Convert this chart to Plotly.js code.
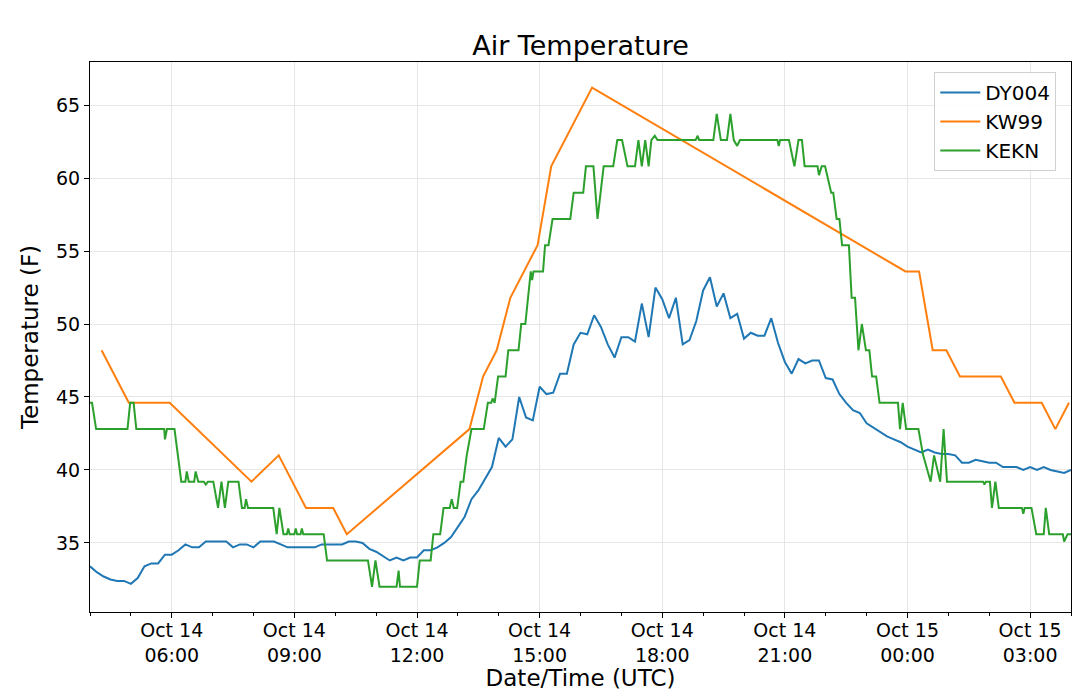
<!DOCTYPE html>
<html>
<head>
<meta charset="utf-8">
<script src="https://cdn.plot.ly/plotly-3.0.1.min.js"></script>
<style>
  html, body { margin: 0; padding: 0; background: #fff; }
  #chart { width: 1080px; height: 697px; }
</style>
</head>
<body>
<div id="chart"></div>
<script>
// DY004: 10-minute readings starting Oct 14 04:00 UTC
const dyStart = Date.UTC(2019, 9, 14, 4, 0);
const dyStepMin = 10;
const dyTemps = [
  33.4, 33.0, 32.7, 32.5, 32.4, 32.4, 32.2, 32.6, 33.4, 33.6, 33.6, 34.2,
  34.2, 34.5, 34.9, 34.7, 34.7, 35.1, 35.1, 35.1, 35.1, 34.7, 34.9, 34.9,
  34.7, 35.1, 35.1, 35.1, 34.9, 34.7, 34.7, 34.7, 34.7, 34.7, 34.9, 34.9,
  34.9, 34.9, 35.1, 35.1, 35.0, 34.6, 34.4, 34.1, 33.8, 34.0, 33.8, 34.0,
  34.0, 34.5, 34.5, 34.7, 35.0, 35.4, 36.1, 36.8, 38.0, 38.6, 39.4, 40.2,
  42.2, 41.6, 42.1, 45.0, 43.6, 43.4, 45.7, 45.2, 45.3, 46.6, 46.6, 48.6,
  49.4, 49.3, 50.6, 49.8, 48.6, 47.7, 49.1, 49.1, 48.8, 51.4, 49.1, 52.5,
  51.7, 50.4, 51.8, 48.6, 48.9, 50.2, 52.3, 53.2, 51.2, 52.1, 50.4, 50.7,
  49.0, 49.4, 49.2, 49.2, 50.4, 48.7, 47.4, 46.6, 47.6, 47.3, 47.5, 47.5,
  46.3, 46.2, 45.2, 44.6, 44.1, 43.9, 43.2, 42.9, 42.6, 42.3, 42.1, 41.9,
  41.6, 41.4, 41.2, 41.4, 41.2, 41.1, 41.1, 41.0, 40.5, 40.5, 40.7, 40.6,
  40.5, 40.5, 40.2, 40.2, 40.2, 40.0, 40.2, 40.0, 40.2, 40.0, 39.9, 39.8,
  40.0
];

// KW99 reports ('day HH:MM', UTC)
const kwTimes = [
  '14 04:17', '14 04:57', '14 05:57', '14 07:57', '14 08:37', '14 09:17',
  '14 09:57', '14 10:17', '14 13:17', '14 13:37', '14 13:57', '14 14:17',
  '14 14:57', '14 15:17', '14 16:17', '14 23:57', '15 00:17', '15 00:37',
  '15 00:57', '15 01:17', '15 02:17', '15 02:37', '15 03:17', '15 03:37',
  '15 03:57'
];
const kwTemps = [
  48.2, 44.6, 44.6, 39.2, 41.0, 37.4,
  37.4, 35.6, 42.8, 46.4, 48.2, 51.8,
  55.4, 60.8, 66.2, 53.6, 53.6, 48.2,
  48.2, 46.4, 46.4, 44.6, 44.6, 42.8,
  44.6
];

// KEKN readings ('day HH:MM', UTC)
const ekTimes = [
  '14 04:00', '14 04:03', '14 04:09', '14 04:55', '14 04:59', '14 05:04', '14 05:08',
  '14 05:49', '14 05:50', '14 05:53', '14 06:04', '14 06:14', '14 06:20', '14 06:22',
  '14 06:25', '14 06:33', '14 06:35', '14 06:39', '14 06:47', '14 06:50', '14 06:53',
  '14 07:01', '14 07:08', '14 07:13', '14 07:18', '14 07:23', '14 07:38', '14 07:43',
  '14 07:47', '14 07:49', '14 07:52', '14 08:29', '14 08:34', '14 08:38', '14 08:44',
  '14 08:49', '14 08:51', '14 08:53', '14 09:00', '14 09:02', '14 09:04', '14 09:09',
  '14 09:11', '14 09:13', '14 09:43', '14 09:48', '14 10:48', '14 10:54', '14 10:59',
  '14 11:05', '14 11:30', '14 11:33', '14 11:35', '14 12:00', '14 12:04', '14 12:20',
  '14 12:24', '14 12:34', '14 12:39', '14 12:48', '14 12:51', '14 12:54', '14 12:59',
  '14 13:04', '14 13:08', '14 13:13', '14 13:20', '14 13:38', '14 13:44', '14 13:49',
  '14 13:51', '14 13:54', '14 13:59', '14 14:10', '14 14:14', '14 14:29', '14 14:33',
  '14 14:39', '14 14:47', '14 14:49', '14 14:51', '14 15:05', '14 15:08', '14 15:13',
  '14 15:19', '14 15:45', '14 15:50', '14 16:04', '14 16:08', '14 16:19', '14 16:25',
  '14 16:34', '14 16:48', '14 16:54', '14 17:01', '14 17:09', '14 17:20', '14 17:25',
  '14 17:30', '14 17:35', '14 17:40', '14 17:44', '14 17:49', '14 17:53', '14 18:49',
  '14 18:52', '14 18:54', '14 19:15', '14 19:20', '14 19:26', '14 19:35', '14 19:40',
  '14 19:45', '14 19:50', '14 19:54', '14 20:49', '14 20:51', '14 20:53', '14 21:06',
  '14 21:14', '14 21:20', '14 21:25', '14 21:29', '14 21:48', '14 21:50', '14 21:54',
  '14 21:59', '14 22:08', '14 22:11', '14 22:16', '14 22:20', '14 22:24', '14 22:34',
  '14 22:38', '14 22:43', '14 22:48', '14 22:53', '14 22:59', '14 23:04', '14 23:08',
  '14 23:14', '14 23:19', '14 23:46', '14 23:49', '14 23:53', '14 23:58', '15 00:16',
  '15 00:23', '15 00:34', '15 00:39', '15 00:48', '15 00:53', '15 00:58', '15 01:51',
  '15 01:53', '15 01:55', '15 02:01', '15 02:04', '15 02:09', '15 02:14', '15 02:48',
  '15 02:50', '15 02:52', '15 03:02', '15 03:09', '15 03:20', '15 03:23', '15 03:28',
  '15 03:48', '15 03:50', '15 03:55', '15 04:00'
];
const ekTemps = [
  44.6, 44.6, 42.8, 42.8, 44.6, 44.6, 42.8,
  42.8, 42.1, 42.8, 42.8, 39.2, 39.2, 39.9,
  39.2, 39.2, 39.9, 39.2, 39.2, 39.0, 39.2,
  39.2, 37.4, 39.2, 37.4, 39.2, 39.2, 37.4,
  37.4, 38.0, 37.4, 37.4, 35.6, 37.4, 35.6,
  35.6, 36.0, 35.6, 35.6, 36.0, 35.6, 35.6,
  36.0, 35.6, 35.6, 33.8, 33.8, 32.0, 33.8,
  32.0, 32.0, 33.1, 32.0, 32.0, 33.8, 33.8,
  35.6, 35.6, 37.4, 37.4, 38.0, 37.4, 37.4,
  39.2, 39.2, 41.0, 42.8, 42.8, 44.6, 44.6,
  44.9, 44.6, 46.4, 46.4, 48.2, 48.2, 50.0,
  50.0, 53.6, 53.0, 53.6, 53.6, 55.4, 55.4,
  57.2, 57.2, 59.0, 59.0, 60.8, 60.8, 57.2,
  60.8, 60.8, 62.6, 62.6, 60.8, 60.8, 62.6,
  60.8, 62.6, 60.8, 62.6, 62.9, 62.6, 62.6,
  62.9, 62.6, 62.6, 64.4, 62.6, 62.6, 64.4,
  62.6, 62.2, 62.6, 62.6, 62.2, 62.6, 62.6,
  60.8, 62.6, 62.6, 60.8, 60.8, 60.2, 60.8,
  60.8, 59.0, 59.0, 57.2, 57.2, 55.4, 55.4,
  51.8, 51.8, 48.2, 50.0, 48.2, 48.2, 46.4,
  46.4, 44.6, 44.6, 42.8, 44.6, 42.8, 42.8,
  41.0, 39.2, 41.0, 39.2, 42.8, 39.2, 39.2,
  39.0, 39.2, 39.2, 37.4, 39.2, 37.4, 37.4,
  37.0, 37.4, 37.4, 35.6, 35.6, 37.4, 35.6,
  35.6, 35.1, 35.6, 35.6
];

const seriesNames = ['DY004', 'KW99', 'KEKN'];
const seriesColors = ['#1f77b4', '#ff7f0e', '#2ca02c'];

function stamp(s) {
  const [day, hm] = s.split(' ');
  return '2019-10-' + day + ' ' + hm;
}

function pad(n) { return String(n).padStart(2, '0'); }

const dyTimes = dyTemps.map((_, i) => {
  const d = new Date(dyStart + i * dyStepMin * 60000);
  return d.getUTCFullYear() + '-' + pad(d.getUTCMonth() + 1) + '-' + pad(d.getUTCDate()) +
    ' ' + pad(d.getUTCHours()) + ':' + pad(d.getUTCMinutes());
});

const traces = [
  { x: dyTimes, y: dyTemps },
  { x: kwTimes.map(stamp), y: kwTemps },
  { x: ekTimes.map(stamp), y: ekTemps },
].map((t, idx) => ({
  x: t.x,
  y: t.y,
  type: 'scatter',
  mode: 'lines',
  name: seriesNames[idx],
  line: { color: seriesColors[idx], width: 2 },
}));

const font = 'DejaVu Sans, sans-serif';

const layout = {
  width: 1080,
  height: 697,
  margin: { l: 90, r: 9, t: 62, b: 85 },
  paper_bgcolor: '#fff',
  plot_bgcolor: '#fff',
  font: { family: font, size: 19, color: '#000' },
  title: {
    text: 'Air Temperature',
    font: { family: font, size: 27, color: '#000' },
    x: 0.5375,
    xanchor: 'center',
    y: 0.935,
    yanchor: 'middle',
  },
  xaxis: {
    type: 'date',
    range: ['2019-10-14 04:00', '2019-10-15 04:00'],
    tick0: '2019-10-14 00:00',
    dtick: 3 * 3600000,
    tickformat: '%b %d<br>%H:%M',
    ticks: 'outside',
    ticklen: 5,
    tickwidth: 1,
    tickcolor: '#000',
    ticklabelstandoff: -4,
    showgrid: true,
    gridcolor: '#e6e6e6',
    gridwidth: 1,
    showline: true,
    linecolor: '#000',
    linewidth: 1,
    mirror: true,
    zeroline: false,
    tickfont: { family: font, size: 19, color: '#000' },
    minor: {
      dtick: 3600000,
      tick0: '2019-10-14 00:00',
      ticks: 'outside',
      ticklen: 3,
      tickcolor: '#000',
      showgrid: false,
    },
    title: {
      text: 'Date/Time (UTC)',
      font: { family: font, size: 23, color: '#000' },
      standoff: 2,
    },
  },
  yaxis: {
    range: [30.27, 67.95],
    tickvals: [35, 40, 45, 50, 55, 60, 65],
    ticks: 'outside',
    ticklen: 5,
    tickwidth: 1,
    tickcolor: '#000',
    showgrid: true,
    gridcolor: '#e6e6e6',
    gridwidth: 1,
    showline: true,
    linecolor: '#000',
    linewidth: 1,
    mirror: true,
    zeroline: false,
    tickfont: { family: font, size: 19, color: '#000' },
    title: {
      text: 'Temperature (F)',
      font: { family: font, size: 23, color: '#000' },
      standoff: 10,
    },
  },
  showlegend: true,
  legend: {
    x: 0.985,
    y: 0.982,
    xanchor: 'right',
    yanchor: 'top',
    bgcolor: 'rgba(255,255,255,0.85)',
    bordercolor: '#d0d0d0',
    borderwidth: 1,
    font: { family: font, size: 20, color: '#000' },
    itemwidth: 40,
  },
};

Plotly.newPlot('chart', traces, layout, { staticPlot: true });
</script>
</body>
</html>
